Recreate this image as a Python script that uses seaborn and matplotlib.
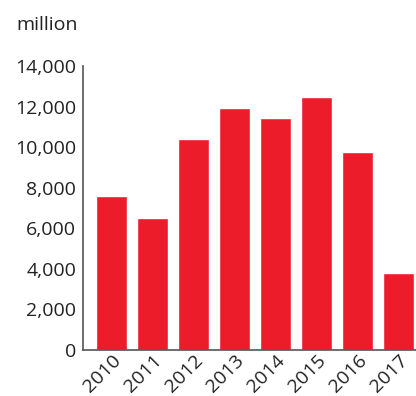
import pandas as pd
import seaborn as sns
import matplotlib.pyplot as plt

years = ["2010", "2011", "2012", "2013", "2014", "2015", "2016", "2017"]
values = [7600, 6500, 10400, 11920, 11420, 12460, 9760, 3800]

sns.set_style("white")
plt.rcParams["font.family"] = ["Open Sans", "DejaVu Sans"]

df = pd.DataFrame({"year": years, "value": values})

fig = plt.figure(figsize=(4.16, 3.96), dpi=100)
ax = fig.add_axes([83 / 416, 1 - 350 / 396, 1 - 83 / 416, (350 - 66) / 396])
sns.barplot(df, x="year", y="value", color="#ED1C2B", saturation=1,
            width=0.76, ax=ax)

ax.set_xlim(-0.7, 7.43)
ax.set_ylim(0, 14000)
ax.set_yticks(range(0, 14001, 2000))
ax.set_yticklabels([f"{v:,}" for v in range(0, 14001, 2000)])
ax.set_xlabel("")
ax.set_ylabel("")
sns.despine(ax=ax)
for s in ["left", "bottom"]:
    ax.spines[s].set_color("#555555")
    ax.spines[s].set_linewidth(1.2)
ax.tick_params(axis="both", length=0, labelsize=14, colors="#222222")
ax.tick_params(axis="y", pad=5)
ax.tick_params(axis="x", pad=1)
for lab in ax.get_xticklabels():
    lab.set_rotation(45)
    lab.set_ha("right")
    lab.set_rotation_mode("anchor")

fig.text(16 / 416, 1 - 25 / 396, "million", fontsize=14, color="#222222",
         va="center", ha="left")

fig.savefig("out.png", dpi=100)
